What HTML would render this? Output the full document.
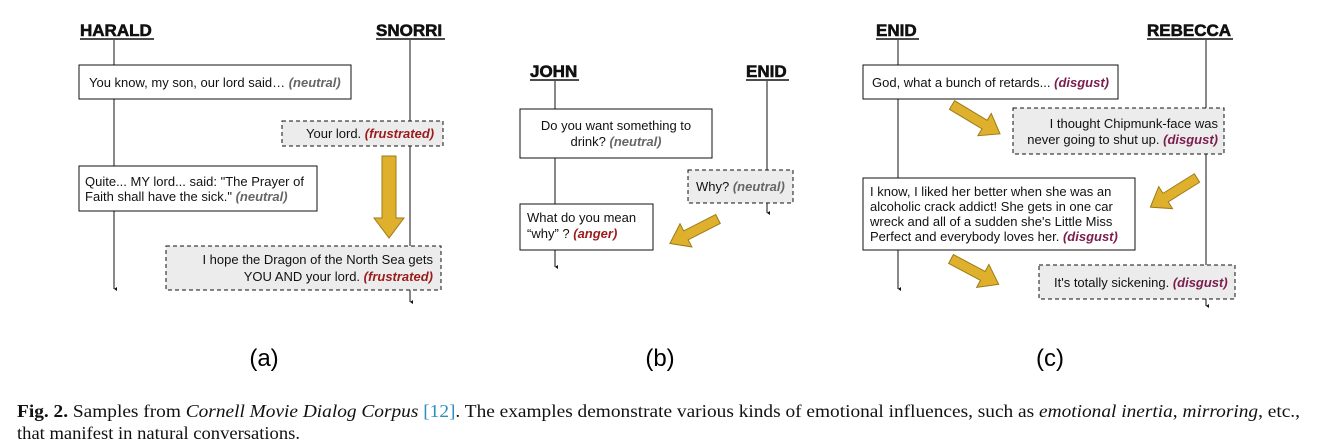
<!DOCTYPE html>
<html><head><meta charset="utf-8"><style>
body{margin:0;background:#fff;width:1321px;height:448px;overflow:hidden}
svg{display:block}
.t{font-family:"Liberation Sans",sans-serif;font-size:13px;fill:#111}
.h{font-family:"Liberation Sans",sans-serif;font-size:17px;font-weight:700;fill:#111;stroke:#111;stroke-width:0.6}
.n{font-style:italic;font-weight:bold;fill:#666}
.f{font-style:italic;font-weight:bold;fill:#9b1c1c}
.d{font-style:italic;font-weight:bold;fill:#7a1d4e}
.box{fill:#fff;stroke:#111;stroke-width:1}
.dash{fill:#ececec;stroke:#111;stroke-width:1;stroke-dasharray:4 3}
.ln{stroke:#111;stroke-width:1}
.ul{stroke:#111;stroke-width:1.5}
.ar{fill:#dfb02c;stroke:#9c7a18;stroke-width:1}
.cap{font-family:"Liberation Serif",serif;font-size:17.5px;fill:#111}
</style></head><body>
<svg width="1321" height="448" viewBox="0 0 1321 448">
<defs>
<marker id="m" markerWidth="6" markerHeight="6" refX="3" refY="5" orient="auto"><path d="M1,2 L3,5 L5,2 Z" fill="#111"/></marker>
</defs>
<!-- Panel a -->
<text class="h" x="80" y="36" font-weight="bold">HARALD</text><line class="ul" x1="80" y1="39" x2="154" y2="39"/>
<text class="h" x="376" y="36" font-weight="bold">SNORRI</text><line class="ul" x1="376" y1="39" x2="445" y2="39"/>
<line class="ln" x1="114" y1="40" x2="114" y2="289" marker-end="url(#m)"/>
<line class="ln" x1="410" y1="40" x2="410" y2="302" marker-end="url(#m)"/>
<rect class="box" x="79" y="65" width="272" height="34"/>
<text class="t" x="89" y="87">You know, my son, our lord said… <tspan class="n">(neutral)</tspan></text>
<rect class="dash" x="282" y="121" width="161" height="25"/>
<text class="t" x="306" y="138">Your lord.  <tspan class="f">(frustrated)</tspan></text>
<rect class="box" x="79" y="166" width="238" height="45"/>
<text class="t" x="85" y="186">Quite... MY lord... said: "The Prayer of</text>
<text class="t" x="85" y="201">Faith shall have the sick." <tspan class="n">(neutral)</tspan></text>
<rect class="dash" x="166" y="246" width="275" height="44"/>
<text class="t" x="433" y="264" text-anchor="end">I hope the Dragon of the North Sea gets</text>
<text class="t" x="433" y="281" text-anchor="end">YOU AND your lord.   <tspan class="f">(frustrated)</tspan></text>
<g transform="translate(389,156) rotate(90)"><path class="ar" d="M0,-7 L62,-7 L62,-15 L82,0 L62,15 L62,7 L0,7 Z"/></g>
<text x="264" y="366" text-anchor="middle" style="font-family:'Liberation Sans',sans-serif;font-size:24px">(a)</text>

<!-- Panel b -->
<text class="h" x="530" y="77" font-weight="bold">JOHN</text><line class="ul" x1="530" y1="80" x2="579" y2="80"/>
<text class="h" x="746" y="77" font-weight="bold">ENID</text><line class="ul" x1="746" y1="80" x2="789" y2="80"/>
<line class="ln" x1="555" y1="81" x2="555" y2="267" marker-end="url(#m)"/>
<line class="ln" x1="767" y1="81" x2="767" y2="213" marker-end="url(#m)"/>
<rect class="box" x="520" y="109" width="192" height="49"/>
<text class="t" x="616" y="130" text-anchor="middle">Do you want something to</text>
<text class="t" x="616" y="146" text-anchor="middle">drink? <tspan class="n">(neutral)</tspan></text>
<rect class="dash" x="688" y="170" width="105" height="33"/>
<text class="t" x="696" y="191">Why?  <tspan class="n">(neutral)</tspan></text>
<rect class="box" x="520" y="204" width="133" height="46"/>
<text class="t" x="527" y="222">What do you mean</text>
<text class="t" x="527" y="238">“why” ? <tspan class="f">(anger)</tspan></text>
<g transform="translate(718,219) rotate(153)"><path class="ar" d="M0,-5 L36,-5 L36,-13 L54,0 L36,13 L36,5 L0,5 Z"/></g>
<text x="660" y="366" text-anchor="middle" style="font-family:'Liberation Sans',sans-serif;font-size:24px">(b)</text>

<!-- Panel c -->
<text class="h" x="876" y="36" font-weight="bold">ENID</text><line class="ul" x1="876" y1="39" x2="919" y2="39"/>
<text class="h" x="1147" y="36" font-weight="bold">REBECCA</text><line class="ul" x1="1147" y1="39" x2="1233" y2="39"/>
<line class="ln" x1="898" y1="40" x2="898" y2="289" marker-end="url(#m)"/>
<line class="ln" x1="1206" y1="40" x2="1206" y2="306" marker-end="url(#m)"/>
<rect class="box" x="863" y="65" width="255" height="34"/>
<text class="t" x="872" y="87">God, what a bunch of retards... <tspan class="d">(disgust)</tspan></text>
<rect class="dash" x="1013" y="108" width="211" height="46"/>
<text class="t" x="1218" y="128" text-anchor="end">I thought Chipmunk-face was</text>
<text class="t" x="1218" y="144" text-anchor="end">never going to shut up.  <tspan class="d">(disgust)</tspan></text>
<rect class="box" x="863" y="178" width="272" height="72"/>
<text class="t" x="870" y="196">I know, I liked her better when she was an</text>
<text class="t" x="870" y="211">alcoholic crack addict! She gets in one car</text>
<text class="t" x="870" y="226">wreck and all of a sudden she's Little Miss</text>
<text class="t" x="870" y="241">Perfect and everybody loves her. <tspan class="d">(disgust)</tspan></text>
<rect class="dash" x="1039" y="265" width="196" height="34"/>
<text class="t" x="1054" y="287">It's totally sickening. <tspan class="d">(disgust)</tspan></text>
<g transform="translate(952,105) rotate(31)"><path class="ar" d="M0,-5 L38,-5 L38,-13 L56,0 L38,13 L38,5 L0,5 Z"/></g>
<g transform="translate(1197,178) rotate(148)"><path class="ar" d="M0,-5 L37,-5 L37,-13 L55,0 L37,13 L37,5 L0,5 Z"/></g>
<g transform="translate(951,259) rotate(28)"><path class="ar" d="M0,-5 L36,-5 L36,-13 L54,0 L36,13 L36,5 L0,5 Z"/></g>
<text x="1050" y="366" text-anchor="middle" style="font-family:'Liberation Sans',sans-serif;font-size:24px">(c)</text>

<text class="cap" x="17" y="417" textLength="1283" lengthAdjust="spacingAndGlyphs"><tspan font-weight="bold">Fig. 2.</tspan>  Samples from <tspan font-style="italic">Cornell Movie Dialog Corpus</tspan> <tspan fill="#2a8ec0">[12]</tspan>. The examples demonstrate various kinds of emotional influences, such as <tspan font-style="italic">emotional inertia</tspan>, <tspan font-style="italic">mirroring</tspan>, etc.,</text>
<text class="cap" x="17" y="439" textLength="283" lengthAdjust="spacingAndGlyphs">that manifest in natural conversations.</text>
</svg>
</body></html>
